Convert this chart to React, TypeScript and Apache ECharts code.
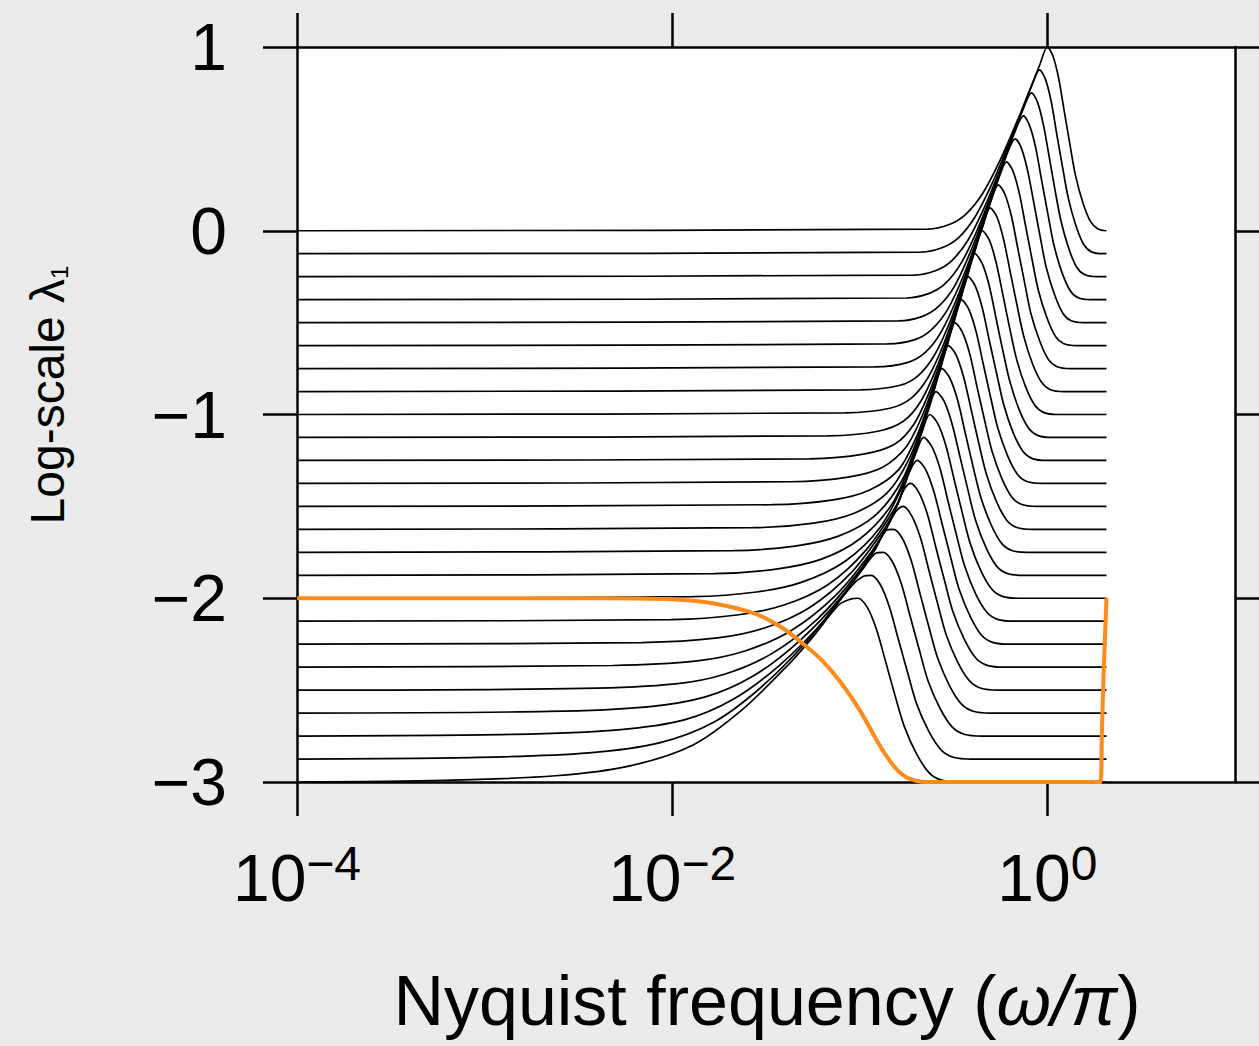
import React, { useEffect, useRef } from "react";
import * as echarts from "echarts";

// x values are log10(ω/π); y values are log10(λ1)
const xTickValues = [-4, -2, 0];
const yTickValues = [-3, -2, -1, 0, 1];
const xTitleMain = "Nyquist frequency (";
const xTitleItalic = "ω/π";
const yTitleMain = "Log-scale λ";
const yTitleSub = "1";

const curve00 = [[-4,0],[-0.637,0.009],[-0.523,0.034],[-0.437,0.088],[-0.347,0.2],[-0.25,0.388],[-0.146,0.634],[-0.1,0.752],[-0.04,0.905],[0,1],[0.03,0.95],[0.06,0.83],[0.09,0.65],[0.12,0.47],[0.15,0.3],[0.19,0.15],[0.23,0.05],[0.27,0.01],[0.315,0]];
const curve01 = [[-4,-0.125],[-0.673,-0.116],[-0.559,-0.091],[-0.473,-0.037],[-0.386,0.075],[-0.292,0.263],[-0.191,0.509],[-0.142,0.634],[-0.082,0.792],[-0.042,0.875],[-0.011,0.825],[0.02,0.705],[0.05,0.525],[0.081,0.345],[0.112,0.175],[0.153,0.025],[0.194,-0.075],[0.235,-0.115],[0.297,-0.125],[0.315,-0.125]];
const curve02 = [[-4,-0.25],[-0.71,-0.241],[-0.594,-0.216],[-0.509,-0.162],[-0.423,-0.05],[-0.331,0.138],[-0.233,0.384],[-0.185,0.513],[-0.125,0.672],[-0.085,0.75],[-0.053,0.7],[-0.022,0.58],[0.01,0.4],[0.041,0.22],[0.073,0.05],[0.115,-0.1],[0.157,-0.2],[0.2,-0.24],[0.263,-0.25],[0.315,-0.25]];
const curve03 = [[-4,-0.375],[-0.752,-0.366],[-0.63,-0.341],[-0.544,-0.287],[-0.459,-0.175],[-0.37,0.013],[-0.275,0.259],[-0.228,0.387],[-0.168,0.552],[-0.128,0.625],[-0.096,0.575],[-0.063,0.455],[-0.031,0.275],[0.002,0.095],[0.034,-0.075],[0.077,-0.225],[0.121,-0.325],[0.164,-0.365],[0.229,-0.375],[0.315,-0.375]];
const curve04 = [[-4,-0.5],[-0.793,-0.491],[-0.666,-0.466],[-0.58,-0.412],[-0.494,-0.3],[-0.409,-0.112],[-0.316,0.134],[-0.272,0.256],[-0.212,0.426],[-0.172,0.5],[-0.139,0.45],[-0.106,0.33],[-0.072,0.15],[-0.039,-0.03],[-0.006,-0.2],[0.039,-0.35],[0.083,-0.45],[0.127,-0.49],[0.194,-0.5],[0.315,-0.5]];
const curve05 = [[-4,-0.625],[-0.853,-0.616],[-0.702,-0.591],[-0.616,-0.537],[-0.53,-0.425],[-0.444,-0.237],[-0.355,0.009],[-0.318,0.116],[-0.258,0.289],[-0.218,0.375],[-0.184,0.325],[-0.15,0.205],[-0.116,0.025],[-0.082,-0.155],[-0.048,-0.325],[-0.002,-0.475],[0.043,-0.575],[0.088,-0.615],[0.157,-0.625],[0.315,-0.625]];
const curve06 = [[-4,-0.75],[-0.919,-0.741],[-0.743,-0.716],[-0.651,-0.662],[-0.566,-0.55],[-0.48,-0.362],[-0.394,-0.116],[-0.362,-0.023],[-0.302,0.157],[-0.262,0.25],[-0.227,0.2],[-0.192,0.08],[-0.157,-0.1],[-0.122,-0.28],[-0.088,-0.45],[-0.041,-0.6],[0.005,-0.7],[0.052,-0.74],[0.122,-0.75],[0.315,-0.75]];
const curve07 = [[-4,-0.875],[-0.997,-0.866],[-0.785,-0.841],[-0.687,-0.787],[-0.601,-0.675],[-0.516,-0.487],[-0.43,-0.241],[-0.405,-0.161],[-0.345,0.02],[-0.305,0.125],[-0.269,0.075],[-0.234,-0.045],[-0.198,-0.225],[-0.162,-0.405],[-0.126,-0.575],[-0.079,-0.725],[-0.031,-0.825],[0.016,-0.865],[0.088,-0.875],[0.315,-0.875]];
const curve08 = [[-4,-1],[-1.08,-0.991],[-0.84,-0.966],[-0.727,-0.912],[-0.637,-0.8],[-0.551,-0.612],[-0.466,-0.366],[-0.447,-0.306],[-0.387,-0.114],[-0.347,0],[-0.31,-0.05],[-0.274,-0.17],[-0.237,-0.35],[-0.201,-0.53],[-0.164,-0.7],[-0.116,-0.85],[-0.067,-0.95],[-0.018,-0.99],[0.055,-1],[0.315,-1]];
const curve09 = [[-4,-1.125],[-1.168,-1.116],[-0.903,-1.091],[-0.768,-1.037],[-0.673,-0.925],[-0.587,-0.737],[-0.501,-0.491],[-0.486,-0.442],[-0.426,-0.247],[-0.386,-0.125],[-0.349,-0.175],[-0.311,-0.295],[-0.274,-0.475],[-0.237,-0.655],[-0.199,-0.825],[-0.15,-0.975],[-0.1,-1.075],[-0.05,-1.115],[0.025,-1.125],[0.315,-1.125]];
const curve10 = [[-4,-1.25],[-1.267,-1.241],[-0.981,-1.216],[-0.815,-1.162],[-0.71,-1.05],[-0.623,-0.862],[-0.537,-0.616],[-0.523,-0.571],[-0.463,-0.376],[-0.423,-0.25],[-0.385,-0.3],[-0.347,-0.42],[-0.309,-0.6],[-0.27,-0.78],[-0.232,-0.95],[-0.182,-1.1],[-0.131,-1.2],[-0.08,-1.24],[-0.004,-1.25],[0.315,-1.25]];
const curve11 = [[-4,-1.375],[-1.365,-1.366],[-1.063,-1.341],[-0.878,-1.287],[-0.752,-1.175],[-0.659,-0.987],[-0.573,-0.741],[-0.559,-0.697],[-0.499,-0.502],[-0.459,-0.375],[-0.42,-0.425],[-0.381,-0.545],[-0.342,-0.725],[-0.303,-0.905],[-0.264,-1.075],[-0.212,-1.225],[-0.16,-1.325],[-0.109,-1.365],[-0.031,-1.375],[0.315,-1.375]];
const curve12 = [[-4,-1.5],[-1.467,-1.491],[-1.15,-1.466],[-0.95,-1.412],[-0.793,-1.3],[-0.694,-1.112],[-0.609,-0.866],[-0.594,-0.82],[-0.534,-0.625],[-0.494,-0.5],[-0.454,-0.55],[-0.414,-0.67],[-0.375,-0.85],[-0.335,-1.03],[-0.295,-1.2],[-0.242,-1.35],[-0.189,-1.45],[-0.136,-1.49],[-0.057,-1.5],[0.315,-1.5]];
const curve13 = [[-4,-1.625],[-1.571,-1.616],[-1.246,-1.591],[-1.03,-1.537],[-0.853,-1.425],[-0.735,-1.237],[-0.644,-0.991],[-0.628,-0.939],[-0.568,-0.744],[-0.528,-0.625],[-0.487,-0.675],[-0.447,-0.795],[-0.406,-0.975],[-0.366,-1.155],[-0.325,-1.325],[-0.271,-1.475],[-0.217,-1.575],[-0.163,-1.615],[-0.082,-1.625],[0.315,-1.625]];
const curve14 = [[-4,-1.75],[-1.675,-1.741],[-1.346,-1.716],[-1.114,-1.662],[-0.919,-1.55],[-0.777,-1.362],[-0.68,-1.116],[-0.662,-1.059],[-0.602,-0.863],[-0.562,-0.75],[-0.521,-0.8],[-0.479,-0.92],[-0.438,-1.1],[-0.397,-1.28],[-0.355,-1.45],[-0.3,-1.6],[-0.245,-1.7],[-0.19,-1.74],[-0.107,-1.75],[0.315,-1.75]];
const curve15 = [[-4,-1.875],[-1.779,-1.866],[-1.446,-1.841],[-1.204,-1.787],[-0.997,-1.675],[-0.828,-1.487],[-0.718,-1.241],[-0.694,-1.172],[-0.634,-0.975],[-0.594,-0.875],[-0.552,-0.925],[-0.51,-1.045],[-0.467,-1.225],[-0.425,-1.405],[-0.383,-1.575],[-0.327,-1.725],[-0.271,-1.825],[-0.214,-1.865],[-0.13,-1.875],[0.315,-1.875]];
const curve16 = [[-4,-2],[-1.891,-1.991],[-1.55,-1.966],[-1.308,-1.912],[-1.08,-1.8],[-0.89,-1.612],[-0.76,-1.366],[-0.727,-1.276],[-0.667,-1.091],[-0.627,-1],[-0.584,-1.05],[-0.541,-1.17],[-0.498,-1.35],[-0.455,-1.53],[-0.412,-1.7],[-0.355,-1.85],[-0.297,-1.95],[-0.24,-1.99],[-0.154,-2],[0.315,-2]];
const curve17 = [[-4,-2.125],[-2.006,-2.116],[-1.654,-2.091],[-1.404,-2.037],[-1.168,-1.925],[-0.966,-1.737],[-0.803,-1.491],[-0.76,-1.377],[-0.7,-1.208],[-0.66,-1.125],[-0.616,-1.175],[-0.572,-1.295],[-0.529,-1.475],[-0.485,-1.655],[-0.441,-1.825],[-0.383,-1.975],[-0.324,-2.075],[-0.266,-2.115],[-0.178,-2.125],[0.315,-2.125]];
const curve18 = [[-4,-2.25],[-2.163,-2.241],[-1.758,-2.216],[-1.508,-2.162],[-1.267,-2.05],[-1.047,-1.862],[-0.865,-1.616],[-0.794,-1.481],[-0.734,-1.31],[-0.694,-1.25],[-0.649,-1.3],[-0.605,-1.42],[-0.56,-1.6],[-0.515,-1.78],[-0.471,-1.95],[-0.411,-2.1],[-0.352,-2.2],[-0.292,-2.24],[-0.203,-2.25],[0.315,-2.25]];
const curve19 = [[-4,-2.375],[-2.319,-2.366],[-1.868,-2.341],[-1.613,-2.287],[-1.365,-2.175],[-1.132,-1.987],[-0.934,-1.741],[-0.83,-1.562],[-0.77,-1.419],[-0.73,-1.375],[-0.685,-1.425],[-0.639,-1.545],[-0.594,-1.725],[-0.548,-1.905],[-0.503,-2.075],[-0.442,-2.225],[-0.382,-2.325],[-0.321,-2.365],[-0.23,-2.375],[0.315,-2.375]];
const curve20 = [[-4,-2.5],[-2.475,-2.491],[-1.982,-2.466],[-1.717,-2.412],[-1.467,-2.3],[-1.225,-2.112],[-1.013,-1.866],[-0.87,-1.644],[-0.81,-1.53],[-0.77,-1.5],[-0.724,-1.55],[-0.677,-1.67],[-0.631,-1.85],[-0.585,-2.03],[-0.539,-2.2],[-0.477,-2.35],[-0.415,-2.45],[-0.354,-2.49],[-0.261,-2.5],[0.315,-2.5]];
const curve21 = [[-4,-2.625],[-2.659,-2.616],[-2.131,-2.591],[-1.823,-2.537],[-1.571,-2.425],[-1.327,-2.237],[-1.097,-1.991],[-0.92,-1.738],[-0.86,-1.631],[-0.82,-1.625],[-0.773,-1.675],[-0.726,-1.795],[-0.679,-1.975],[-0.632,-2.155],[-0.585,-2.325],[-0.522,-2.475],[-0.459,-2.575],[-0.396,-2.615],[-0.302,-2.625],[0.315,-2.625]];
const curve22 = [[-4,-2.75],[-2.848,-2.741],[-2.288,-2.716],[-1.936,-2.662],[-1.675,-2.55],[-1.425,-2.362],[-1.186,-2.116],[-0.975,-1.828],[-0.915,-1.755],[-0.875,-1.75],[-0.827,-1.8],[-0.779,-1.92],[-0.731,-2.1],[-0.683,-2.28],[-0.636,-2.45],[-0.572,-2.6],[-0.508,-2.7],[-0.444,-2.74],[-0.348,-2.75],[0.315,-2.75]];
const curve23 = [[-4,-2.875],[-3.036,-2.866],[-2.444,-2.841],[-2.069,-2.787],[-1.779,-2.675],[-1.529,-2.487],[-1.288,-2.241],[-1.04,-1.929],[-0.98,-1.88],[-0.94,-1.875],[-0.891,-1.925],[-0.843,-2.045],[-0.794,-2.225],[-0.745,-2.405],[-0.697,-2.575],[-0.632,-2.725],[-0.567,-2.825],[-0.502,-2.865],[-0.404,-2.875],[0.315,-2.875]];
const curve24 = [[-4,-3],[-3.214,-2.991],[-2.621,-2.966],[-2.225,-2.912],[-1.891,-2.8],[-1.633,-2.612],[-1.385,-2.366],[-1.25,-2.21],[-1.11,-2.034],[-1.05,-2.005],[-1.01,-2],[-0.96,-2.05],[-0.911,-2.17],[-0.861,-2.35],[-0.812,-2.53],[-0.762,-2.7],[-0.696,-2.85],[-0.63,-2.95],[-0.564,-2.99],[-0.465,-3],[0.315,-3]];

const blackCurves = [
  curve00, curve01, curve02, curve03, curve04, curve05, curve06, curve07, curve08,
  curve09, curve10, curve11, curve12, curve13, curve14, curve15, curve16,
  curve17, curve18, curve19, curve20, curve21, curve22, curve23, curve24,
];

const orangeCurve = [[-4,-2],[-2.5,-2],[-2.2,-2.001],[-2.0,-2.006],[-1.8,-2.025],[-1.6,-2.07],[-1.5,-2.11],[-1.4,-2.17],[-1.3,-2.25],[-1.2,-2.34],[-1.1,-2.46],[-1.0,-2.61],[-0.9,-2.79],[-0.85,-2.87],[-0.8,-2.935],[-0.75,-2.975],[-0.7,-2.993],[-0.65,-3],[0.2,-3],[0.282,-3],[0.29,-2.75],[0.3,-2.4],[0.315,-2]];

const FONT = "'Liberation Sans', Arial, Helvetica, sans-serif";
const BLACK = "#000000";
const ORANGE = "#ff8a1c";

export default function App() {
  const ref = useRef<HTMLDivElement>(null);

  useEffect(() => {
    if (!ref.current) return;
    const chart = echarts.init(ref.current, null, { renderer: "svg" });

    const minus = (v: number) => (v < 0 ? "\u2212" + Math.abs(v) : String(v));
    const axisLineStyle = { color: BLACK, width: 2.5 };

    const baseX = {
      type: "value",
      min: -4,
      max: 1,
      interval: 2,
      splitLine: { show: false },
      axisLine: { show: true, onZero: false, lineStyle: axisLineStyle },
      axisTick: { show: true, length: 34, customValues: xTickValues, lineStyle: axisLineStyle },
    };
    const baseY = {
      type: "value",
      min: -3,
      max: 1,
      interval: 1,
      splitLine: { show: false },
      axisLine: { show: true, onZero: false, lineStyle: axisLineStyle },
      axisTick: { show: true, length: 34, lineStyle: axisLineStyle },
    };

    chart.setOption({
      animation: false,
      backgroundColor: "#ebebeb",
      grid: {
        left: 297,
        top: 47,
        width: 938,
        height: 735,
        show: true,
        backgroundColor: "#ffffff",
        borderWidth: 0,
        containLabel: false,
      },
      xAxis: [
        {
          ...baseX,
          position: "bottom",
          axisLabel: {
            show: true,
            customValues: xTickValues,
            margin: 57,
            formatter: (v: number) => `{b|10}{s|${minus(v)}}`,
            rich: {
              b: { fontSize: 66, lineHeight: 78, fontFamily: FONT, color: BLACK },
              s: { fontSize: 48, fontFamily: FONT, color: BLACK, verticalAlign: "top" },
            },
          },
        },
        {
          ...baseX,
          position: "top",
          axisLabel: { show: false },
        },
      ],
      yAxis: [
        {
          ...baseY,
          position: "left",
          axisLabel: {
            show: true,
            margin: 70,
            fontSize: 66,
            fontFamily: FONT,
            color: BLACK,
            formatter: (v: number) => minus(v),
          },
        },
        {
          ...baseY,
          position: "right",
          axisLabel: { show: false },
        },
      ],
      series: [
        ...blackCurves.map((d, i) => ({
          type: "line",
          name: "level " + i,
          data: d,
          xAxisIndex: 0,
          yAxisIndex: 0,
          symbol: "none",
          showSymbol: false,
          smooth: 0.3,
          silent: true,
          lineStyle: { color: BLACK, width: 1.7 },
          z: 2,
        })),
        {
          type: "line",
          name: "orange",
          data: orangeCurve,
          xAxisIndex: 0,
          yAxisIndex: 0,
          symbol: "none",
          showSymbol: false,
          smooth: 0.35,
          silent: true,
          lineStyle: { color: ORANGE, width: 4 },
          z: 3,
        },
      ],
      graphic: [
        {
          type: "text",
          x: 767,
          y: 1001,
          style: {
            text: `{n|${xTitleMain}}{i|${xTitleItalic}}{n|)}`,
            align: "center",
            verticalAlign: "middle",
            rich: {
              n: { fontSize: 70, fontFamily: FONT, fill: BLACK },
              i: { fontSize: 70, fontFamily: FONT, fontStyle: "italic", fill: BLACK },
            },
          },
        },
        {
          type: "text",
          x: 47,
          y: 395,
          rotation: Math.PI / 2,
          style: {
            text: `{n|${yTitleMain}}{s|${yTitleSub}}`,
            align: "center",
            verticalAlign: "middle",
            rich: {
              n: { fontSize: 48, lineHeight: 48, fontFamily: FONT, fill: BLACK },
              s: { fontSize: 24, lineHeight: 24, fontFamily: FONT, fill: BLACK, verticalAlign: "bottom" },
            },
          },
        },
      ],
    });

    return () => chart.dispose();
  }, []);

  return (
    <div
      ref={ref}
      style={{ position: "fixed", left: 0, top: 0, width: 1259, height: 1046, background: "#ebebeb" }}
    />
  );
}
